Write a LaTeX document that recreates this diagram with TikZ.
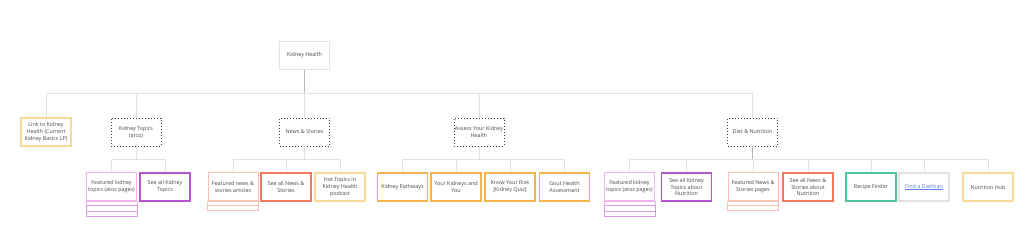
\documentclass[tikz,border=0pt]{standalone}
\usepackage{fontspec}
\setmainfont{Open Sans}
\definecolor{txt}{HTML}{4A4A4A}
\definecolor{lgray}{HTML}{E2E2E2}
\definecolor{mgray}{HTML}{B8B8B8}
\definecolor{gold}{HTML}{F7DC98}
\definecolor{pinkl}{HTML}{F2B2F2}
\definecolor{pinkd}{HTML}{DA98EA}
\definecolor{purp}{HTML}{B955CB}
\definecolor{salml}{HTML}{FAC2B6}
\definecolor{salm}{HTML}{F2785E}
\definecolor{orng}{HTML}{F5B54C}
\definecolor{teal}{HTML}{4CC3A3}
\definecolor{linkb}{HTML}{5A7FE6}
\tikzset{
  box/.style={draw, minimum width=50pt, minimum height=28pt, inner sep=0pt, align=center,
    font=\fontsize{5.4}{6.8}\selectfont, text=txt, line width=1pt},
  rootbox/.style={box, draw=lgray, line width=0.8pt},
  dotbox/.style={box, draw=black!75, dotted, line width=0.9pt},
  goldbox/.style={box, draw=gold, line width=1.1pt},
  pinkbox/.style={box, draw=pinkl, line width=1pt},
  purpbox/.style={box, draw=purp, line width=1.4pt},
  salmlbox/.style={box, draw=salml, line width=1pt},
  salmbox/.style={box, draw=salm, line width=1.4pt},
  orngbox/.style={box, draw=orng, line width=1.4pt},
  tealbox/.style={box, draw=teal, line width=1.4pt},
  graybox/.style={box, draw=lgray, line width=1.2pt},
  conn/.style={draw=lgray, line width=0.9pt},
  connd/.style={draw=mgray, line width=1.1pt},
}
\begin{document}
\begin{tikzpicture}[x=1pt,y=-1pt]
\useasboundingbox[fill=white] (0,0) rectangle (1021,245);
% root
\node[rootbox] (root) at (304.5,55.5) {Kidney Health};
% level 2
\node[goldbox] (link) at (46,132) {Link to Kidney\\Health (Current\\Kidney Basics LP)};
\node[dotbox] (kt) at (136,132) {Kidney Topics\\(atoz)};
\node[dotbox] (ns) at (304.5,132) {News \& Stories};
\node[dotbox] (as) at (479,132) {Assess Your Kidney\\Health};
\node[dotbox] (dn) at (752.5,132) {Diet \& Nutrition};
% level 3
\node[pinkbox] (f1) at (111.5,187) {Featured kidney\\topics (atoz pages)};
\node[purpbox] (s1) at (165,187) {See all Kidney\\Topics};
\node[salmlbox] (f2) at (233,187) {Featured news \&\\stories articles};
\node[salmbox] (s2) at (286,187) {See all News \&\\Stories};
\node[goldbox] (h2) at (340,187) {Hot Topics in\\Kidney Health\\podcast};
\node[orngbox] (p3) at (402.5,187) {Kidney Pathways};
\node[orngbox] (y3) at (456,187) {Your Kidneys and\\You};
\node[orngbox] (k3) at (510,187) {Know Your Risk\\{[Kidney Quiz]}};
\node[orngbox] (g3) at (564.5,187) {Gout Health\\Assessment};
\node[pinkbox] (f3) at (629.5,187) {Featured kidney\\topics (atoz pages)};
\node[purpbox] (s3) at (686.5,187) {See all Kidney\\Topics about\\Nutrition};
\node[salmlbox] (f4) at (753,187) {Featured News \&\\Stories pages};
\node[salmbox] (s4) at (808,187) {See all News \&\\Stories about\\Nutrition};
\node[tealbox] (r4) at (871,187) {Recipe Finder};
\node[graybox] (d4) at (924,187) {\textcolor{linkb}{\underline{Find a Dietitian}}};
\node[goldbox] (n4) at (988,187) {Nutrition Hub};
% stacked sub-boxes
\foreach \n in {f1,f3}{
  \draw[pinkl, line width=1pt] (\n.south west) rectangle ([yshift=-4.5pt]\n.south east);
  \draw[pinkd, line width=1pt] ([yshift=-4.5pt]\n.south west) rectangle ([yshift=-10pt]\n.south east);
  \draw[pinkd, line width=1pt] ([yshift=-10pt]\n.south west) rectangle ([yshift=-15.5pt]\n.south east);
}
\foreach \n in {f2,f4}{
  \draw[salml, line width=1pt] (\n.south west) rectangle ([yshift=-4.5pt]\n.south east);
  \draw[salml, line width=1pt] ([yshift=-4.5pt]\n.south west) rectangle ([yshift=-9.5pt]\n.south east);
}
% buses
\coordinate (bus1) at (0,93);
\coordinate (bus2) at (0,159);
\draw[connd] (root.south) -- (root.south |- bus1);
\draw[conn] (link.north |- bus1) -- (dn.north |- bus1);
\foreach \n in {link,kt,ns,as,dn}{
  \draw[conn] (\n.north |- bus1) -- (\n.north);
}
% level 2 -> level 3
\draw[conn] (kt.south) -- (kt.south |- bus2);
\draw[conn] (f1.north |- bus2) -- (s1.north |- bus2);
\draw[conn] (ns.south) -- (ns.south |- bus2);
\draw[conn] (f2.north |- bus2) -- (h2.north |- bus2);
\draw[conn] (as.south) -- (as.south |- bus2);
\draw[conn] (p3.north |- bus2) -- (g3.north |- bus2);
\draw[conn] (f3.north |- bus2) -- (n4.north |- bus2);
\draw[connd] (dn.south) -- (dn.south |- bus2);
\foreach \n in {f1,s1,f2,s2,h2,p3,y3,k3,g3,f3,s3,f4,s4,r4,d4,n4}{
  \draw[conn] (\n.north |- bus2) -- (\n.north);
}
\end{tikzpicture}
\end{document}
